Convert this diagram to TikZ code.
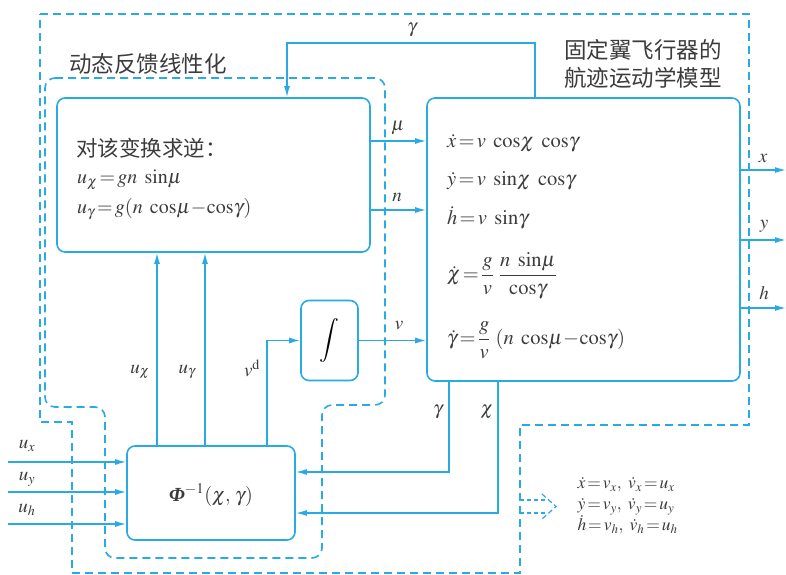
\documentclass[tikz,border=0pt]{standalone}
\usepackage{amsmath}
\usepackage{mathptmx}
\usepackage{fontspec}
\setmainfont{Liberation Serif}
\newfontfamily\cjk{Noto Sans CJK SC}
\usetikzlibrary{arrows.meta,calc}
\definecolor{lb}{RGB}{40,170,226}
\definecolor{tx}{RGB}{60,60,60}
\tikzset{
  blk/.style={draw=lb, line width=1.6pt, rounded corners=8pt, fill=white},
  arr/.style={draw=lb, line width=1.5pt, -{Latex[length=11pt,width=6pt]}},
  dsh/.style={draw=lb, line width=1.6pt, dash pattern=on 8pt off 5pt},
  lbl/.style={text=tx, font=\fontsize{19}{21}\selectfont, inner sep=1pt},
  eq/.style={text=tx, font=\fontsize{20.5}{23}\selectfont, inner sep=0pt, anchor=west},
  zh/.style={text=tx, font=\cjk\fontsize{22.5}{28}\selectfont, inner sep=0pt}
}
\begin{document}
\begin{tikzpicture}[x=1pt,y=-1pt]
\useasboundingbox[fill=white] (0,0) rectangle (786,574);
% dashed frames
\draw[dsh] (40,14) -- (749,14) -- (749,425) -- (520,425) -- (520,573) -- (72,573) -- (72,422) -- (40,422) -- cycle;
\draw[dsh, rounded corners=10pt] (45,78) -- (385,78) -- (385,405) -- (322,405) -- (322,558) -- (105,558) -- (105,407) -- (45,407) -- cycle;
% blocks
\node[blk, minimum width=313pt, minimum height=154pt] (inv) at (213.5,175) {};
\node[blk, minimum width=313pt, minimum height=283pt] (model) at (583.5,239.5) {};
\node[blk, minimum width=57pt, minimum height=80pt] (int) at (329.5,340.5) {\fontsize{22}{24}\selectfont$\displaystyle\int$};
\node[blk, minimum width=168pt, minimum height=94pt] (phi) at (211,493) {};
\node[text=tx, font=\fontsize{20}{22}\selectfont] (phitxt) at (211,495) {{\bfseries\itshape Φ}$^{-1}(\chi,\,\gamma)$};
% titles
\node[zh] (t1) at (148,64) {动态反馈线性化};
\node[zh, align=left] (t2) at (643,64) {固定翼飞行器的\\航迹运动学模型};
% inverse block text
\node[zh, anchor=west, font=\cjk\fontsize{21.5}{26}\selectfont] (inv1) at (76,148) {对该变换求逆：};
\node[eq, font=\fontsize{20}{22}\selectfont] (inv2) at (77,180) {$u_\chi\!=\!gn\ \sin\!\mu$};
\node[eq, font=\fontsize{20}{22}\selectfont] (inv3) at (77,209) {$u_\gamma\!=\!g(n\ \cos\!\mu\!-\!\cos\!\gamma)$};
% model text
\node[eq] (m1) at (447,143) {$\dot x\!=\!v\ \cos\!\chi\ \cos\!\gamma$};
\node[eq] (m2) at (447,181) {$\dot y\!=\!v\ \sin\!\chi\ \cos\!\gamma$};
\node[eq] (m3) at (447,218) {$\dot h\!=\!v\ \sin\!\gamma$};
\node[eq] (m4) at (447,276) {$\dot \chi\!=\!\dfrac{g}{v}\ \dfrac{n\ \sin\!\mu}{\cos\!\gamma}$};
\node[eq] (m5) at (447,340) {$\dot \gamma\!=\!\dfrac{g}{v}\ (n\ \cos\!\mu\!-\!\cos\!\gamma)$};
% coordinates for free ends
\coordinate (ix) at (8,462);
\coordinate (iy) at (8,492);
\coordinate (ih) at (8,524);
\coordinate (ox) at (786,170);
\coordinate (oy) at (786,240);
\coordinate (oh) at (786,308);
% connectors
\draw[arr] (model.north -| 535,0) -- (535,43) -- (287,43) -- (inv.north -| 287,0);
\draw[arr] (inv.east |- 0,141) -- (model.west |- 0,141);
\draw[arr] (inv.east |- 0,210) -- (model.west |- 0,210);
\draw[arr] (int.east) -- (model.west |- int.east);
\draw[arr] (phi.north -| 157,0) -- (inv.south -| 157,0);
\draw[arr] (phi.north -| 205,0) -- (inv.south -| 205,0);
\draw[arr] (phi.north -| 267,0) |- (int.west);
\draw[arr] (model.south -| 449,0) |- (phi.east |- 0,472);
\draw[arr] (model.south -| 498,0) |- (phi.east |- 0,513);
\draw[arr] (ix) -- (phi.west |- ix);
\draw[arr] (iy) -- (phi.west |- iy);
\draw[arr] (ih) -- (phi.west |- ih);
\draw[arr] (model.east |- ox) -- (ox);
\draw[arr] (model.east |- oy) -- (oy);
\draw[arr] (model.east |- oh) -- (oh);
% labels
\node[lbl] (lg1) at (412,30) {$\gamma$};
\node[lbl] (lmu) at (398,128) {$\mu$};
\node[lbl] (ln) at (397,197) {$n$};
\node[lbl] (lv) at (399,326) {$v$};
\node[lbl] (luc) at (140,372) {$u_\chi$};
\node[lbl] (lug) at (187,372) {$u_\gamma$};
\node[lbl] (lvd) at (252,368) {$v^{\mathrm{d}}$};
\node[lbl] (lg2) at (438,412) {$\gamma$};
\node[lbl] (lc2) at (487,412) {$\chi$};
\node[lbl] (lx) at (763,158) {$x$};
\node[lbl] (ly) at (764,226) {$y$};
\node[lbl] (lh) at (764,293) {$h$};
\node[lbl] (lux) at (27,446) {$u_x$};
\node[lbl] (luy) at (27,479) {$u_y$};
\node[lbl] (luh) at (27,510) {$u_h$};
% hollow dashed arrow
\draw[draw=lb, line width=1.2pt, dash pattern=on 4pt off 3pt] (520,500) -- (546,500) (520,513) -- (546,513);
\draw[draw=lb, line width=1.2pt, dash pattern=on 5pt off 3pt] (542,494) -- (556,506.5) -- (542,519);
% right equations
\node[text=tx, font=\fontsize{17.5}{21}\selectfont, align=left, anchor=west] (req) at (574,506) {$\dot x\!=\!v_x,\ \dot v_x\!=\!u_x$\\$\dot y\!=\!v_y,\ \dot v_y\!=\!u_y$\\$\dot h\!=\!v_h,\ \dot v_h\!=\!u_h$};
\end{tikzpicture}
\end{document}
